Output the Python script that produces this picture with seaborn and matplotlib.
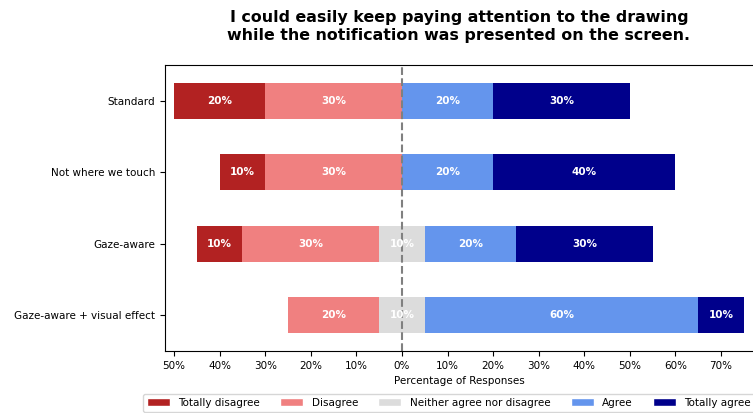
import pandas as pd
import matplotlib.pyplot as plt
import seaborn as sns
from matplotlib.patches import Patch

conditions = ["Standard", "Not where we touch", "Gaze-aware", "Gaze-aware + visual effect"]
totally_disagree = [20, 10, 10, 0]
disagree = [30, 30, 30, 20]
neutral = [0, 0, 10, 10]
agree = [20, 20, 20, 60]
totally_agree = [30, 40, 30, 10]

levels = ["Totally disagree", "Disagree", "Neither agree nor disagree", "Agree", "Totally agree"]
colors = ["firebrick", "lightcoral", "gainsboro", "cornflowerblue", "darkblue"]

df = pd.DataFrame({
    "Condition": conditions,
    "TD": totally_disagree, "D": disagree, "N": neutral, "A": agree, "TA": totally_agree,
})
half_n = df["N"] / 2
# cumulative edges of each segment, measured from zero
df["neg_outer"] = -(half_n + df["D"] + df["TD"])
df["neg_mid"] = -(half_n + df["D"])
df["neg_in"] = -half_n
df["pos_outer"] = half_n + df["A"] + df["TA"]
df["pos_mid"] = half_n + df["A"]
df["pos_in"] = half_n

sns.set_style("ticks", {"text.color": "black", "axes.labelcolor": "black",
                        "xtick.color": "black", "ytick.color": "black"})
fig, ax = plt.subplots(figsize=(7.53, 4.13), dpi=100)
fig.subplots_adjust(left=0.219, right=1.0, top=0.843, bottom=0.150)

# draw from outermost to innermost so inner segments cover outer ones
for col, c in [("neg_outer", colors[0]), ("neg_mid", colors[1]), ("neg_in", colors[2]),
               ("pos_outer", colors[4]), ("pos_mid", colors[3]), ("pos_in", colors[2])]:
    sns.barplot(data=df, x=col, y="Condition", order=conditions, color=c,
                width=0.5, orient="h", saturation=1, linewidth=0, ax=ax)

# segment labels
for i, row in df.iterrows():
    segs = [
        (row["neg_outer"], row["TD"]),
        (row["neg_mid"], row["D"]),
        (row["neg_in"], row["N"]),
        (row["pos_in"], row["A"]),
        (row["pos_mid"], row["TA"]),
    ]
    for start, w in segs:
        if w > 0:
            ax.text(start + w / 2, i, f"{int(w)}%", ha="center", va="center",
                    color="white", fontsize=7.5, fontweight="bold")

ax.axvline(0, color="gray", linestyle="--", linewidth=1.5)

ticks = list(range(-50, 80, 10))
ax.set_xticks(ticks)
ax.set_xticklabels([f"{abs(t)}%" for t in ticks], fontsize=7.5)
ax.tick_params(axis="y", labelsize=7.5)
ax.set_xlim(-52, 77)
ax.set_ylim(3.5, -0.5)
ax.set_ylabel("")
ax.set_xlabel("Percentage of Responses", fontsize=7.5)
ax.set_title("I could easily keep paying attention to the drawing\nwhile the notification was presented on the screen.",
             fontsize=11.4, fontweight="bold", color="black", pad=18)
for s in ax.spines.values():
    s.set_color("black")
    s.set_linewidth(0.8)
ax.spines["right"].set_visible(False)

handles = [Patch(facecolor=c, label=l) for c, l in zip(colors, levels)]
fig.legend(handles=handles, loc="lower left", bbox_to_anchor=(0.183, -0.01), ncol=5,
           fontsize=7.5, frameon=True, handlelength=2.2, columnspacing=1.95)

fig.savefig("out.png", dpi=100)
